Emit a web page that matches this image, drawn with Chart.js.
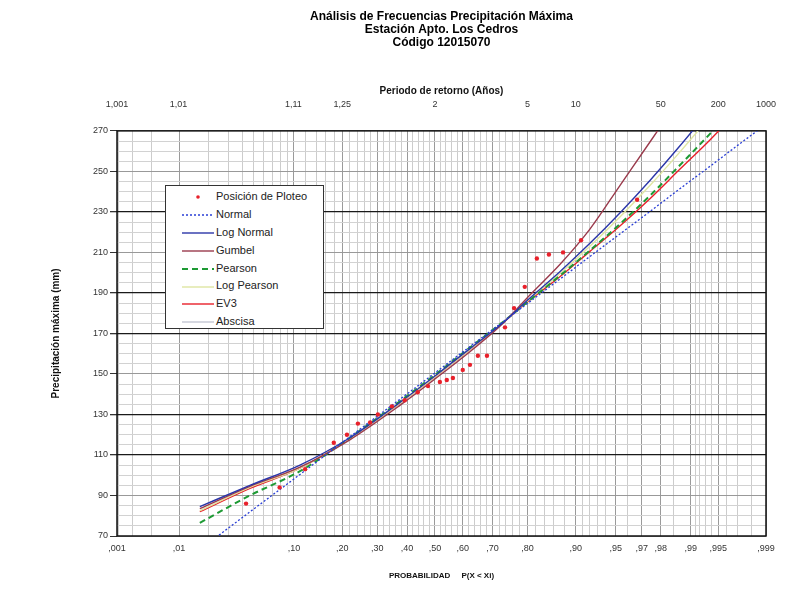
<!DOCTYPE html>
<html>
<head>
<meta charset="utf-8">
<script src="https://cdn.jsdelivr.net/npm/chart.js@4.4.1/dist/chart.umd.min.js"></script>
<style>
body { margin: 0; background: #fff; }
#wrap { position: relative; width: 807px; height: 603px; }
#legend { position: absolute; left: 165px; top: 185px; width: 159px; height: 144px; background: #fff;
  border: 1px solid #333; box-sizing: border-box; font: 11px 'Liberation Sans', Arial, sans-serif; color: #222; padding-top: 2px; }
#legend div { height: 17.9px; line-height: 17.9px; white-space: nowrap; }
#legend svg { vertical-align: middle; margin-left: 16px; margin-right: 2px; }
</style>
</head>
<body>
<div id="wrap">
  <canvas id="grafico" width="807" height="603"></canvas>
  <div id="legend"></div>
</div>
<script>
// posición de ploteo: probabilidad de no excedencia y precipitación (mm)
const ploteoProb = [.043, .079, .119, .179, .212, .242, .278, .302, .348, .392, .438, .475, .518, .543, .565, .600, .625, .652, .682, .738, .764, .793, .823, .850, .878, .908, .967];
const ploteoMm = [86, 94, 103, 116, 120, 125.5, 126, 130, 134, 137, 141, 144, 146, 147, 148, 152, 154.5, 159, 159, 173, 182.5, 193, 207, 209, 210, 216, 236];

const curvaProb = [.0163, .0463, .110, .2197, .3752, .5, .6248, .7227, .8062, .872, .9206, .9537, .9747, .987, .9938, .9972, .9987];
const normal = [63.3, 81.9, 100.4, 119, 137.5, 150.5, 163.5, 174.6, 185.7, 196.8, 208, 219.1, 230.2, 241.4, 252.5, 263.6, 273.3];
const logNormal = [84.5, 95, 105, 118.5, 136, 149, 162.5, 174, 187.5, 200.5, 214.5, 229.5, 245.5, 262.5, 280.5, null, null];
const gumbel = [83.5, 94.5, 104, 117.5, 134.5, 147.5, 161, 173.5, 189, 204, 221.5, 243, 264.5, 286, null, null, null];
const pearson = [76.5, 90, 102, 118.5, 136.5, 149.5, 163, 174.5, 186.5, 198.5, 211, 224, 238, 253, 268.5, 284, null];
const logPearson = [82.5, 94, 103.5, 118, 135.5, 148.5, 162, 174, 187, 199.5, 213, 227.5, 243, 259.5, 277, null, null];
const ev3 = [82, 93.5, 103.5, 118, 135.5, 148.5, 162, 174, 186.5, 198, 210.5, 223, 236.5, 251, 265.5, 281, null];

// ejes
const probTicks = [.001, .01, .10, .20, .30, .40, .50, .60, .70, .80, .90, .95, .97, .98, .99, .995, .999];
const probLabels = [',001', ',01', ',10', ',20', ',30', ',40', ',50', ',60', ',70', ',80', ',90', ',95', ',97', ',98', ',99', ',995', ',999'];
const probMenores = [.002, .003, .005, .02, .03, .04, .05, .06, .07, .08, .09, .12, .14, .16, .18, .22, .24, .26, .28,
  .32, .34, .36, .38, .42, .44, .46, .48, .52, .54, .56, .58, .62, .64, .66, .68, .72, .74, .76, .78, .82, .84, .86, .88,
  .91, .92, .93, .94, .96, .985, .991, .992, .993, .994, .996, .997, .998];
const periodos = [1.001, 1.01, 1.11, 1.25, 2, 5, 10, 50, 200, 1000];
const periodoLabels = ['1,001', '1,01', '1,11', '1,25', '2', '5', '10', '50', '200', '1000'];
const yTicks = [70, 90, 110, 130, 150, 170, 190, 210, 230, 250, 270];
const yFuertes = [110, 130, 170, 190, 230];

// papel de probabilidad normal
function invNorm(p) {
  const a = [-39.69683028665376, 220.9460984245205, -275.9285104469687, 138.357751867269, -30.66479806614716, 2.506628277459239];
  const b = [-54.47609879822406, 161.5858368580409, -155.6989798598866, 66.80131188771972, -13.28068155288572];
  const c = [-0.007784894002430293, -0.3223964580411365, -2.400758277161838, -2.549732539343734, 4.374664141464968, 2.938163982698783];
  const d = [0.007784695709041462, 0.3224671290700398, 2.445134137142996, 3.754408661907416];
  let q, r;
  if (p < 0.02425) {
    q = Math.sqrt(-2 * Math.log(p));
    return (((((c[0]*q+c[1])*q+c[2])*q+c[3])*q+c[4])*q+c[5]) / ((((d[0]*q+d[1])*q+d[2])*q+d[3])*q+1);
  }
  if (p > 1 - 0.02425) {
    q = Math.sqrt(-2 * Math.log(1 - p));
    return -(((((c[0]*q+c[1])*q+c[2])*q+c[3])*q+c[4])*q+c[5]) / ((((d[0]*q+d[1])*q+d[2])*q+d[3])*q+1);
  }
  q = p - 0.5; r = q * q;
  return (((((a[0]*r+a[1])*r+a[2])*r+a[3])*r+a[4])*r+a[5])*q / (((((b[0]*r+b[1])*r+b[2])*r+b[3])*r+b[4])*r+1);
}

const zMin = -2.89, zMax = 3.01;
const clampZ = z => Math.min(zMax, Math.max(zMin, z));

const puntos = (probs, vals) => probs.map((p, i) => ({ x: invNorm(p), y: vals[i] })).filter(d => d.y !== null);

const gridX = probTicks.map((p, i) => ({ value: clampZ(invNorm(p)), label: probLabels[i], mayor: true }))
  .concat(probMenores.map(p => ({ value: invNorm(p), label: '', mayor: false })));
gridX.sort((u, v) => u.value - v.value);

const topX = periodos.map((t, i) => ({ value: clampZ(invNorm(1 - 1 / t)), label: periodoLabels[i] }));

const yGrid = [];
for (let v = 70; v <= 270; v += 5) yGrid.push(v);

Chart.defaults.font.family = "'Liberation Sans', Arial, sans-serif";
Chart.defaults.color = '#333';

const linea = (label, data, color, extra) => Object.assign({
  label: label, data: puntos(curvaProb, data), showLine: true, borderColor: color, backgroundColor: color,
  borderWidth: 1.4, pointRadius: 0, cubicInterpolationMode: 'monotone'
}, extra || {});

const marco = {
  id: 'marco',
  beforeDatasetsDraw(chart) {
    const { ctx, chartArea: a } = chart;
    ctx.save();
    ctx.strokeStyle = '#111';
    ctx.lineWidth = 1.5;
    ctx.strokeRect(a.left, a.top, a.right - a.left, a.bottom - a.top);
    ctx.restore();
  }
};

const chart = new Chart(document.getElementById('grafico'), {
  type: 'scatter',
  data: {
    datasets: [
      { label: 'Posición de Ploteo', data: puntos(ploteoProb, ploteoMm), borderColor: '#e8212b', backgroundColor: '#e8212b', pointRadius: 2.2, pointBorderWidth: 0 },
      linea('Normal', normal, '#2a3fd6', { borderDash: [2, 2], borderWidth: 1.3 }),
      linea('Log Normal', logNormal, '#2b36a8'),
      linea('Gumbel', gumbel, '#9a3a4c'),
      linea('Pearson', pearson, '#1e9a34', { borderDash: [6, 4], borderWidth: 2 }),
      linea('Log Pearson', logPearson, '#dfe6a2'),
      linea('EV3', ev3, '#e8202a'),
      { label: 'Abscisa', data: [], showLine: true, borderColor: '#b9bccb', borderWidth: 1.2, pointRadius: 0 }
    ]
  },
  options: {
    responsive: false,
    animation: false,
    layout: { padding: { left: 50, right: 41, top: 0, bottom: 10 } },
    plugins: {
      legend: { display: false },
      tooltip: { enabled: false },
      title: {
        display: true, fullSize: false, color: '#000',
        text: ['Análisis de Frecuencias Precipitación Máxima', 'Estación Apto. Los Cedros', 'Código 12015070'],
        font: { size: 12, weight: 'bold', lineHeight: 1.08 },
        padding: { top: 10, bottom: 0 }
      }
    },
    scales: {
      x: {
        type: 'linear', position: 'bottom', min: zMin, max: zMax,
        afterFit: s => { s.height = 57; },
        afterBuildTicks: s => { s.ticks = gridX.map(g => ({ value: g.value })); },
        ticks: { autoSkip: false, maxRotation: 0, padding: 3, font: { size: 9 }, color: '#333',
          callback: (v, i) => gridX[i].label },
        grid: { color: c => (c.tick && gridX[c.index] && gridX[c.index].mayor) ? '#9a9a9a' : '#cccccc', lineWidth: 1,
          tickLength: 4, tickColor: 'rgba(0,0,0,0)' },
        border: { display: false },
        title: { display: true, text: 'PROBABILIDAD     P(X < Xi)', color: '#111', font: { size: 8, weight: 'bold' },
          padding: { top: 4, bottom: 12 } }
      },
      x2: {
        type: 'linear', position: 'top', min: zMin, max: zMax,
        afterFit: s => { s.height = 82; },
        afterBuildTicks: s => { s.ticks = topX.map(g => ({ value: g.value })); },
        ticks: { autoSkip: false, maxRotation: 0, padding: 21, font: { size: 9 }, color: '#333',
          callback: (v, i) => topX[i].label },
        grid: { drawOnChartArea: false, drawTicks: false },
        border: { display: false },
        title: { display: true, text: 'Periodo de retorno (Años)', color: '#111', font: { size: 10, weight: 'bold' },
          padding: { top: 36, bottom: 0 } }
      },
      y: {
        type: 'linear', min: 70, max: 270,
        afterFit: s => { s.width = 67; },
        afterBuildTicks: s => { s.ticks = yGrid.map(v => ({ value: v })); },
        ticks: { autoSkip: false, padding: 2, font: { size: 9 }, color: '#333',
          callback: v => yTicks.includes(v) ? v : '' },
        grid: {
          color: c => yFuertes.includes(c.tick.value) ? '#1a1a1a' : (yTicks.includes(c.tick.value) ? '#999999' : '#d2d2d2'),
          lineWidth: c => yFuertes.includes(c.tick.value) ? 1.3 : 1,
          tickLength: 7,
          tickColor: c => yTicks.includes(c.tick.value) ? '#333' : 'rgba(0,0,0,0)'
        },
        border: { display: false },
        title: { display: true, text: 'Precipitación máxima (mm)', color: '#111', font: { size: 10, weight: 'bold' },
          padding: { top: 0, bottom: 4 } }
      }
    }
  },
  plugins: [marco]
});

// leyenda dentro del gráfico, a partir de los datasets
const leyenda = document.getElementById('legend');
chart.data.datasets.forEach(ds => {
  const fila = document.createElement('div');
  let muestra;
  if (!ds.showLine) {
    muestra = `<svg width="32" height="8"><circle cx="16" cy="4" r="1.8" fill="${ds.backgroundColor}"/></svg>`;
  } else {
    const dash = ds.borderDash ? `stroke-dasharray="${ds.borderDash.join(',')}"` : '';
    muestra = `<svg width="32" height="8"><line x1="0" y1="4" x2="32" y2="4" stroke="${ds.borderColor}" stroke-width="${ds.borderWidth}" ${dash}/></svg>`;
  }
  fila.innerHTML = muestra + ds.label;
  leyenda.appendChild(fila);
});
</script>
</body>
</html>
